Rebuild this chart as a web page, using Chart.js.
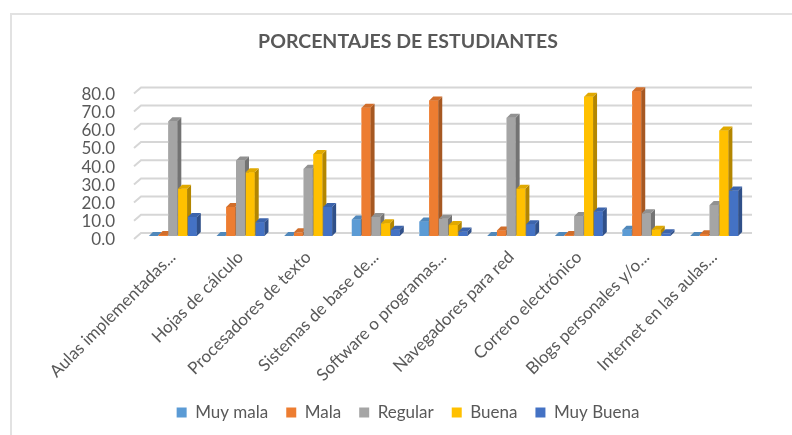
<!DOCTYPE html>
<html>
<head>
<meta charset="utf-8">
<script src="https://cdn.jsdelivr.net/npm/chart.js@4"></script>
<style>
  html, body { margin: 0; padding: 0; background: #fff; }
  #wrap { position: relative; width: 792px; height: 435px; overflow: hidden; }
  #frame { position: absolute; left: 10px; top: 13px; right: -5px; bottom: -5px;
           border-top: 2px solid #e2e2e2; border-left: 2px solid #e2e2e2; }
  canvas { position: absolute; left: 0; top: 0; }
</style>
</head>
<body>
<div id="wrap">
  <div id="frame"></div>
  <canvas id="chart" width="792" height="435"></canvas>
</div>
<script>
// categories and series (percent of students)
const categories = [
    "Aulas implementadas...",
    "Hojas de cálculo",
    "Procesadores de texto",
    "Sistemas de base de...",
    "Software o programas...",
    "Navegadores para red",
    "Correro electrónico",
    "Blogs personales y/o...",
    "Internet en las aulas..."
];
const muyMala   = [0.0, 0.0, 0.0, 9.0, 8.0, 0.0, 0.0, 3.5, 0.0];
const mala      = [0.5, 16.0, 2.0, 70.5, 74.5, 3.0, 0.5, 79.5, 1.0];
const regular   = [63.0, 41.5, 37.0, 10.5, 9.5, 65.0, 11.0, 12.5, 17.0];
const buena     = [26.0, 35.0, 45.0, 7.0, 6.0, 26.0, 76.5, 3.5, 58.0];
const muyBuena  = [10.5, 7.5, 16.0, 3.5, 2.5, 6.5, 13.5, 1.5, 25.0];
const yTicks    = [0, 10, 20, 30, 40, 50, 60, 70, 80];

const FONT = "Lato, 'Open Sans', sans-serif";
const DEPTH = 4;

function shade(hex, f) {
    const n = parseInt(hex.slice(1), 16);
    let r = (n >> 16) & 255, g = (n >> 8) & 255, b = n & 255;
    if (f < 0) { r *= 1 + f; g *= 1 + f; b *= 1 + f; }
    else { r += (255 - r) * f; g += (255 - g) * f; b += (255 - b) * f; }
    return `rgb(${Math.round(r)},${Math.round(g)},${Math.round(b)})`;
}

// Excel-like 3D look: wall gridlines first, then columns with side + top faces
const bars3d = {
    id: "bars3d",
    afterDatasetsDraw(chart) {
        const { ctx, chartArea } = chart;
        const ys = chart.scales.y;
        ctx.save();

        // wall gridlines, a bit up and right of the front plane
        ctx.strokeStyle = "#d6d6d6";
        ctx.lineWidth = 2;
        yTicks.forEach(v => {
            const y = ys.getPixelForValue(v);
            ctx.beginPath();
            ctx.moveTo(chartArea.left - 5, y + 3);
            ctx.lineTo(chartArea.left + 2, y - 3);
            ctx.lineTo(chartArea.right + 4, y - 3);
            ctx.stroke();
        });

        const metas = chart.data.datasets.map((d, i) => chart.getDatasetMeta(i));
        categories.forEach((c, j) => {
            metas.forEach((meta, i) => {
                const el = meta.data[j];
                const col = chart.data.datasets[i].backgroundColor;
                const l = el.x - el.width / 2, r = el.x + el.width / 2;
                const top = el.y, base = el.base;
                ctx.fillStyle = col;
                ctx.fillRect(l, top, r - l, base - top);
                ctx.fillStyle = shade(col, -0.3);
                ctx.beginPath();
                ctx.moveTo(r, top); ctx.lineTo(r + DEPTH, top - DEPTH);
                ctx.lineTo(r + DEPTH, base - DEPTH); ctx.lineTo(r, base);
                ctx.closePath(); ctx.fill();
                ctx.fillStyle = shade(col, -0.12);
                ctx.beginPath();
                ctx.moveTo(l, top); ctx.lineTo(l + DEPTH, top - DEPTH);
                ctx.lineTo(r + DEPTH, top - DEPTH); ctx.lineTo(r, top);
                ctx.closePath(); ctx.fill();
            });
        });
        ctx.restore();
    }
};

const series = [
    { label: "Muy mala", data: muyMala, color: "#5B9BD5" },
    { label: "Mala", data: mala, color: "#ED7D31" },
    { label: "Regular", data: regular, color: "#A5A5A5" },
    { label: "Buena", data: buena, color: "#FFC000" },
    { label: "Muy Buena", data: muyBuena, color: "#4472C4" }
];

new Chart(document.getElementById("chart"), {
    type: "bar",
    data: {
        labels: categories,
        datasets: series.map(s => ({
            label: s.label,
            data: s.data,
            backgroundColor: s.color,
            borderWidth: 0,
            categoryPercentage: 0.72,
            barPercentage: 0.92
        }))
    },
    options: {
        responsive: false,
        animation: false,
        layout: { padding: { left: 68, right: 44, top: 6, bottom: 4 } },
        scales: {
            y: {
                min: 0,
                max: 80,
                afterBuildTicks: s => { s.ticks = yTicks.map(v => ({ value: v })); },
                afterFit: s => { s.width = 71; },
                grid: { display: false },
                border: { display: false },
                ticks: {
                    color: "#595959",
                    padding: 16,
                    autoSkip: false,
                    labelOffset: 4,
                    font: { family: FONT, size: 17 },
                    callback: v => v.toFixed(1)
                }
            },
            x: {
                afterFit: s => { s.height = 150; },
                grid: { display: false },
                border: { display: false },
                ticks: {
                    color: "#595959",
                    padding: 3,
                    maxRotation: 45,
                    minRotation: 45,
                    autoSkip: false,
                    font: { family: FONT, size: 17 }
                }
            }
        },
        plugins: {
            title: {
                display: true,
                text: "PORCENTAJES DE ESTUDIANTES",
                color: "#595959",
                font: { family: FONT, size: 19.5, weight: "bold" },
                padding: { top: 24, bottom: 37 }
            },
            legend: {
                position: "bottom",
                labels: {
                    color: "#595959",
                    boxWidth: 10,
                    boxHeight: 10,
                    padding: 18,
                    font: { family: FONT, size: 17 }
                }
            },
            tooltip: { enabled: false }
        }
    },
    plugins: [bars3d]
});
</script>
</body>
</html>
